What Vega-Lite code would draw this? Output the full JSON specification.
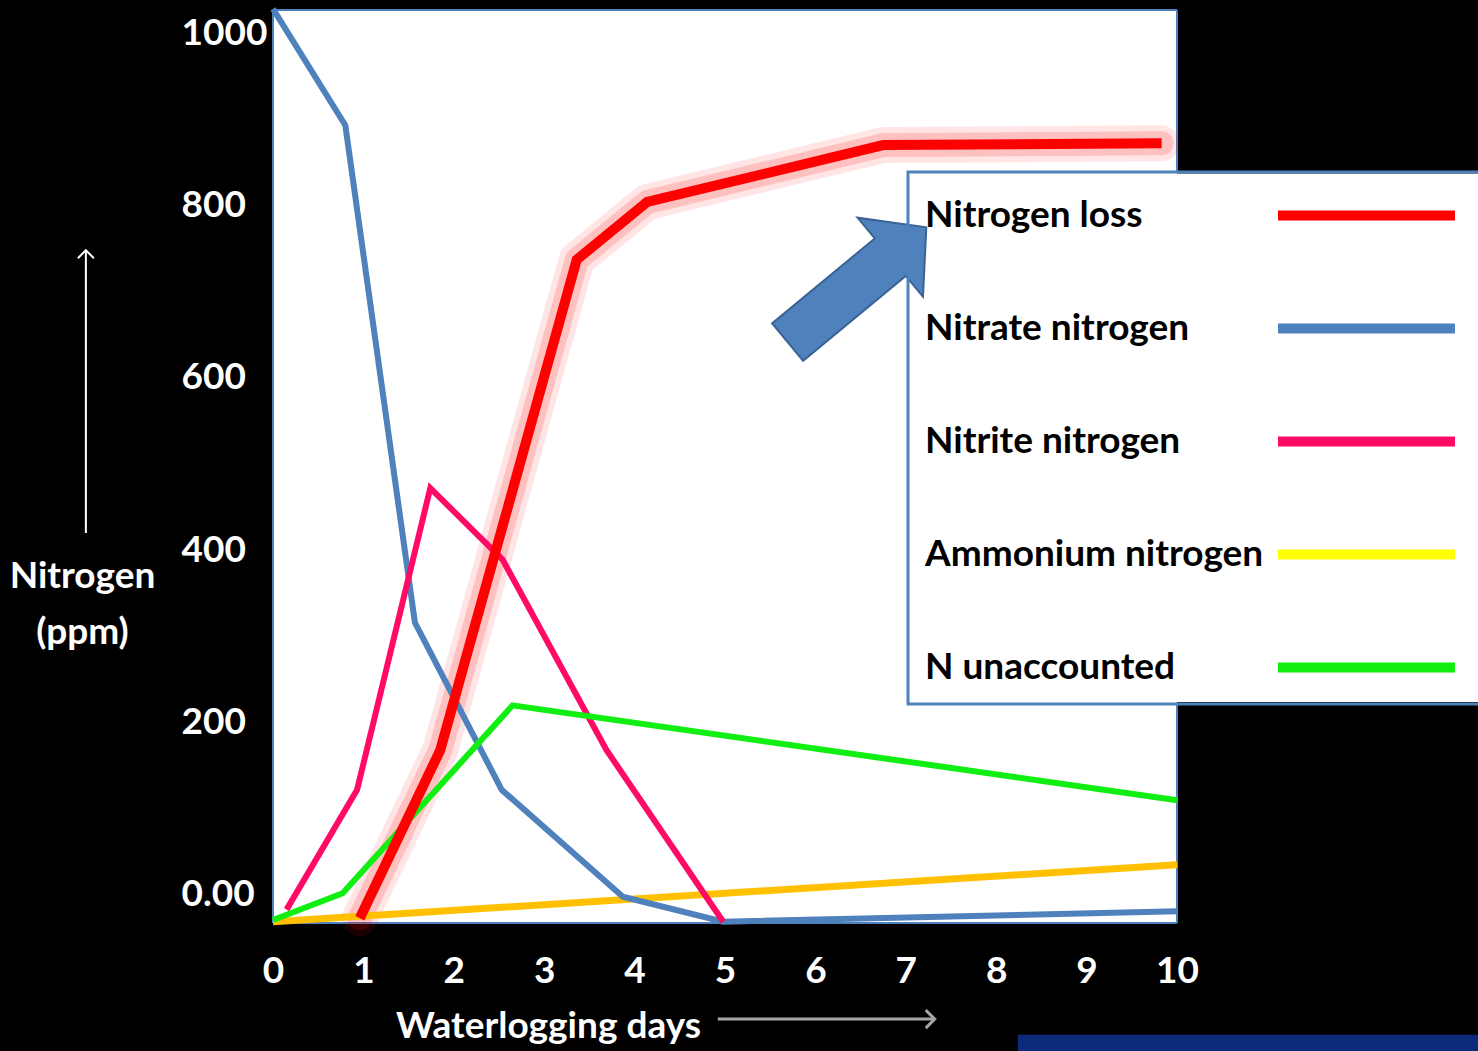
{
  "$schema": "https://vega.github.io/schema/vega-lite/v6.json",
  "width": 904,
  "height": 913,
  "autosize": {"type": "none"},
  "padding": {"left": 273, "top": 10, "right": 301, "bottom": 128},
  "background": "#000000",
  "config": {
    "view": {"fill": "#FFFFFF", "stroke": null},
    "font": "Lato"
  },
  "datasets": {
    "series": [
      {"series": "Nitrate nitrogen", "day": 0, "ppm": 1028},
      {"series": "Nitrate nitrogen", "day": 0.8, "ppm": 893},
      {"series": "Nitrate nitrogen", "day": 1.57, "ppm": 316},
      {"series": "Nitrate nitrogen", "day": 2.53, "ppm": 122},
      {"series": "Nitrate nitrogen", "day": 3.87, "ppm": -2},
      {"series": "Nitrate nitrogen", "day": 4.98, "ppm": -31},
      {"series": "Nitrate nitrogen", "day": 10, "ppm": -19},
      {"series": "Nitrogen loss", "day": 0.96, "ppm": -27},
      {"series": "Nitrogen loss", "day": 1.85, "ppm": 168},
      {"series": "Nitrogen loss", "day": 3.36, "ppm": 737},
      {"series": "Nitrogen loss", "day": 4.14, "ppm": 804},
      {"series": "Nitrogen loss", "day": 6.75, "ppm": 870},
      {"series": "Nitrogen loss", "day": 9.83, "ppm": 872},
      {"series": "Nitrite nitrogen", "day": 0.15, "ppm": -17},
      {"series": "Nitrite nitrogen", "day": 0.93, "ppm": 122},
      {"series": "Nitrite nitrogen", "day": 1.74, "ppm": 472},
      {"series": "Nitrite nitrogen", "day": 2.54, "ppm": 389},
      {"series": "Nitrite nitrogen", "day": 3.69, "ppm": 168},
      {"series": "Nitrite nitrogen", "day": 4.98, "ppm": -31},
      {"series": "Ammonium nitrogen", "day": 0, "ppm": -31},
      {"series": "Ammonium nitrogen", "day": 10, "ppm": 35},
      {"series": "N unaccounted", "day": 0, "ppm": -29},
      {"series": "N unaccounted", "day": 0.77, "ppm": 2},
      {"series": "N unaccounted", "day": 2.65, "ppm": 220},
      {"series": "N unaccounted", "day": 10, "ppm": 110}
    ],
    "frame": [
      {"day": 0, "day2": 0, "ppm": -32.5, "ppm2": 1026.7},
      {"day": 0, "day2": 10, "ppm": 1026.7, "ppm2": 1026.7},
      {"day": 10, "day2": 10, "ppm": 1026.7, "ppm2": 838},
      {"day": 10, "day2": 10, "ppm": 223, "ppm2": -32.5},
      {"day": 0, "day2": 10, "ppm": -32.5, "ppm2": -32.5}
    ],
    "legendPanel": [{"day": 10, "day2": 13.4, "ppm": 837, "ppm2": 224}],
    "callout": [{"day": 6.46, "ppm": 708}],
    "yArrow": [{"day": -2.07, "ppm": 420, "ppm2": 748}],
    "yArrowHead": [{"day": -2.07, "ppm": 748}],
    "xArrow": [{"day": 4.92, "day2": 7.32, "ppm": -144}],
    "xArrowHead": [{"day": 7.32, "ppm": -144}],
    "band": [{"day": 8.24, "day2": 13.4, "ppm": -162, "ppm2": -185}]
  },
  "encoding": {
    "x": {
      "field": "day", "type": "quantitative",
      "scale": {"domain": [0, 10], "nice": false, "zero": false},
      "axis": {
        "values": [0, 1, 2, 3, 4, 5, 6, 7, 8, 9, 10],
        "domain": false, "ticks": false, "grid": false,
        "labelFlush": false, "labelOverlap": false,
        "labelColor": "#FFFFFF", "labelFontSize": 37, "labelFontWeight": "bold",
        "labelPadding": 30,
        "title": "Waterlogging days",
        "titleColor": "#FFFFFF", "titleFontSize": 37, "titleFontWeight": "bold",
        "titleX": 275, "titleY": 114, "titleAlign": "center", "titleBaseline": "alphabetic"
      }
    },
    "y": {
      "field": "ppm", "type": "quantitative",
      "scale": {"domain": [-32.5, 1026.7], "nice": false, "zero": false},
      "axis": {
        "values": [0, 200, 400, 600, 800, 1000],
        "labelExpr": "datum.value === 0 ? '0.00' : '' + datum.value",
        "domain": false, "ticks": false, "grid": false,
        "labelColor": "#FFFFFF", "labelFontSize": 37, "labelFontWeight": "bold",
        "labelAlign": "left", "labelBaseline": "middle", "labelPadding": 92,
        "title": ["Nitrogen", "(ppm)"],
        "titleColor": "#FFFFFF", "titleFontSize": 37, "titleFontWeight": "bold",
        "titleAngle": 0, "titleAlign": "center", "titleBaseline": "alphabetic",
        "titleX": -191, "titleY": 577, "titleLineHeight": 56
      }
    }
  },
  "layer": [
    {
      "data": {"name": "frame"},
      "mark": {"type": "rule", "color": "#4F81BD", "strokeWidth": 2},
      "encoding": {"x2": {"field": "day2"}, "y2": {"field": "ppm2"}}
    },
    {
      "data": {"name": "series"},
      "transform": [{"filter": "datum.series === 'Nitrogen loss'"}],
      "mark": {"type": "line", "color": "#FF0000", "strokeWidth": 36, "opacity": 0.1, "strokeJoin": "round", "strokeCap": "round"}
    },
    {
      "data": {"name": "series"},
      "transform": [{"filter": "datum.series === 'Nitrogen loss'"}],
      "mark": {"type": "line", "color": "#FF0000", "strokeWidth": 24, "opacity": 0.16, "strokeJoin": "round", "strokeCap": "round"}
    },
    {
      "data": {"name": "series"},
      "transform": [{"filter": "datum.series === 'Ammonium nitrogen'"}],
      "mark": {"type": "line", "color": "#FFC000", "strokeWidth": 7}
    },
    {
      "data": {"name": "series"},
      "transform": [{"filter": "datum.series !== 'Nitrogen loss' && datum.series !== 'Ammonium nitrogen'"}],
      "mark": {"type": "line", "strokeWidth": 6, "strokeJoin": "miter"},
      "encoding": {
        "color": {
          "field": "series", "type": "nominal",
          "scale": {
            "domain": ["Nitrogen loss", "Nitrate nitrogen", "Nitrite nitrogen", "Ammonium nitrogen", "N unaccounted"],
            "range": ["#FF0000", "#4F81BD", "#FF0A64", "#FFFF00", "#11EE11"]
          },
          "legend": {
            "title": null,
            "orient": "none",
            "legendX": 635,
            "legendY": 162,
            "fillColor": "transparent",
            "strokeColor": "#4F81BD",
            "padding": 16,
            "symbolType": "M-4,0H4",
            "symbolSize": 1958,
            "symbolStrokeWidth": 10,
            "symbolOffset": 415,
            "labelOffset": -469,
            "labelFontSize": 37,
            "labelFontWeight": "bold",
            "labelColor": "#000000",
            "labelLimit": 600,
            "rowPadding": 65,
            "encode": {
              "legend": {"update": {"strokeWidth": {"value": 3}}},
              "symbols": {"update": {"strokeWidth": {"value": 10}}}
            }
          }
        }
      }
    },
    {
      "data": {"name": "series"},
      "transform": [{"filter": "datum.series === 'Nitrogen loss'"}],
      "mark": {"type": "line", "strokeWidth": 10, "strokeJoin": "miter"},
      "encoding": {
        "color": {
          "field": "series", "type": "nominal",
          "scale": {
            "domain": ["Nitrogen loss", "Nitrate nitrogen", "Nitrite nitrogen", "Ammonium nitrogen", "N unaccounted"],
            "range": ["#FF0000", "#4F81BD", "#FF0A64", "#FFFF00", "#11EE11"]
          },
          "legend": null
        }
      }
    },
    {
      "data": {"name": "legendPanel"},
      "mark": {"type": "rect", "color": "#FFFFFF"},
      "encoding": {"x2": {"field": "day2"}, "y2": {"field": "ppm2"}}
    },
    {
      "data": {"name": "callout"},
      "mark": {"type": "point", "shape": "M-1,-0.27L0.48,-0.27L0.48,-0.57L1,0L0.48,0.57L0.48,0.27L-1,0.27Z", "size": 32400, "angle": 320.4, "filled": true, "fill": "#4F81BD", "stroke": "#3A6496", "strokeWidth": 2, "opacity": 1}
    },
    {
      "data": {"name": "yArrow"},
      "mark": {"type": "rule", "color": "#FFFFFF", "strokeWidth": 2},
      "encoding": {"y2": {"field": "ppm2"}}
    },
    {
      "data": {"name": "yArrowHead"},
      "mark": {"type": "point", "shape": "M-1,1L0,0L1,1", "size": 256, "filled": false, "stroke": "#FFFFFF", "strokeWidth": 2, "opacity": 1}
    },
    {
      "data": {"name": "xArrow"},
      "mark": {"type": "rule", "color": "#A6A6A6", "strokeWidth": 3},
      "encoding": {"x2": {"field": "day2"}}
    },
    {
      "data": {"name": "xArrowHead"},
      "mark": {"type": "point", "shape": "M-1,-1L0,0L-1,1", "size": 324, "filled": false, "stroke": "#A6A6A6", "strokeWidth": 3, "opacity": 1}
    },
    {
      "data": {"name": "band"},
      "mark": {"type": "rect", "color": "#0B2B7A"},
      "encoding": {"x2": {"field": "day2"}, "y2": {"field": "ppm2"}}
    }
  ]
}
